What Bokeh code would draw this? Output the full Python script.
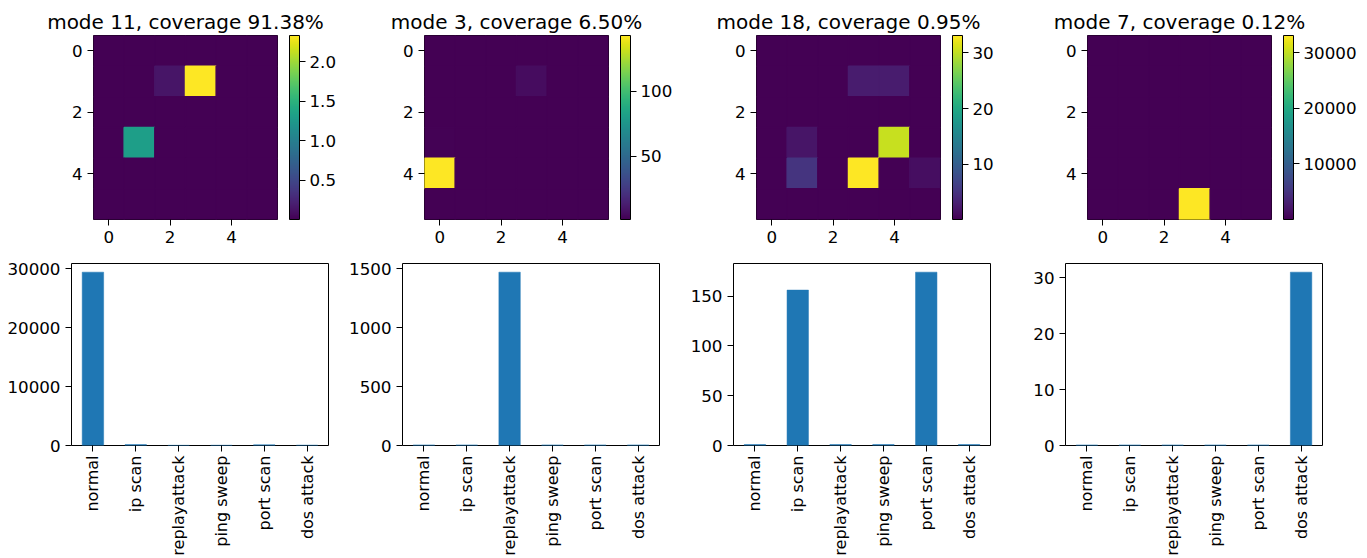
import numpy as np
from bokeh.plotting import figure
from bokeh.models import (ColumnDataSource, LinearColorMapper, ColorBar, FixedTicker, Range1d,
                          PrintfTickFormatter)
from bokeh.layouts import row, column
from bokeh.palettes import Viridis256
from bokeh.transform import transform
from bokeh.embed import file_html
from bokeh.resources import INLINE

FONT = "DejaVu Sans"
TICK_FS = "16.7px"
BAR_LABEL_FS = "16px"
TITLE_FS = "20px"

titles = ["mode 11, coverage 91.38%", "mode 3, coverage 6.50%",
          "mode 18, coverage 0.95%", "mode 7, coverage 0.12%"]

heat_mode11 = [
    [0.005, 0.005, 0.005, 0.005, 0.005, 0.005],
    [0.005, 0.005, 0.14, 2.335, 0.005, 0.005],
    [0.005, 0.005, 0.005, 0.005, 0.005, 0.005],
    [0.005, 1.31, 0.005, 0.005, 0.005, 0.005],
    [0.005, 0.005, 0.005, 0.005, 0.005, 0.005],
    [0.005, 0.005, 0.005, 0.005, 0.005, 0.005],
]
heat_mode3 = [
    [1.5, 1.5, 1.5, 1.5, 1.5, 1.5],
    [1.5, 1.5, 1.5, 6.0, 1.5, 1.5],
    [1.5, 1.5, 1.5, 1.5, 1.5, 1.5],
    [2.5, 1.5, 1.5, 1.5, 1.5, 1.5],
    [143.0, 1.5, 1.5, 1.5, 1.5, 1.5],
    [1.5, 1.5, 1.5, 1.5, 1.5, 1.5],
]
heat_mode18 = [
    [0.1, 0.1, 0.1, 0.1, 0.1, 0.1],
    [0.1, 0.1, 0.1, 2.6, 2.6, 0.1],
    [0.1, 0.1, 0.1, 0.1, 0.1, 0.1],
    [0.1, 2.0, 0.1, 0.1, 30.3, 0.1],
    [0.1, 5.0, 0.1, 33.1, 0.1, 1.3],
    [0.1, 0.1, 0.1, 0.1, 0.1, 0.1],
]
heat_mode7 = [
    [5, 5, 5, 5, 5, 5],
    [5, 5, 5, 5, 5, 5],
    [5, 5, 5, 5, 5, 5],
    [5, 5, 5, 5, 5, 5],
    [5, 5, 5, 5, 5, 5],
    [5, 5, 5, 33060, 5, 5],
]
heatmaps = [heat_mode11, heat_mode3, heat_mode18, heat_mode7]
cbar_ticks = [[0.5, 1.0, 1.5, 2.0], [50, 100], [10, 20, 30], [10000, 20000, 30000]]
cbar_formats = ["%.1f", "%d", "%d", "%d"]
heat_ticks = [0, 2, 4]

categories = ["normal", "ip scan", "replayattack", "ping sweep", "port scan", "dos attack"]
counts_mode11 = [29450, 150, 30, 40, 120, 60]
counts_mode3 = [5, 5, 1470, 5, 5, 5]
counts_mode18 = [1, 156, 1, 1, 174, 1]
counts_mode7 = [0.1, 0.1, 0.1, 0.1, 0.1, 31]
counts = [counts_mode11, counts_mode3, counts_mode18, counts_mode7]
bar_ticks = [[0, 10000, 20000, 30000], [0, 500, 1000, 1500], [0, 50, 100, 150], [0, 10, 20, 30]]

# layout (pixels)
FRAME = 184
heat_left = [93, 50, 50, 50]
heat_w = [374, 332, 331, 323]
TOP_H = 250
HEAT_TOP = 35

BAR_FW = 257
BAR_FH = 183
bar_left = [71, 60, 50, 45]
bar_w = [342, 341, 337, 332]
BOT_H = 308
BAR_TOP = 13


def style_axis(ax, fs=TICK_FS):
    ax.axis_line_color = None
    ax.major_tick_line_color = "black"
    ax.major_tick_line_width = 1
    ax.major_tick_out = 6
    ax.major_tick_in = 0
    ax.minor_tick_line_color = None
    ax.major_label_text_font = FONT
    ax.major_label_text_font_size = fs
    ax.major_label_text_color = "black"
    ax.major_label_standoff = 5


top_figs = []
bot_figs = []
for i in range(4):
    data = np.array(heatmaps[i], dtype=float)
    n = data.shape[0]
    xs, ys, vs = [], [], []
    for r in range(n):
        for c in range(n):
            xs.append(c)
            ys.append(r)
            vs.append(data[r, c])
    src = ColumnDataSource(dict(x=xs, y=ys, v=vs))
    mapper = LinearColorMapper(palette=Viridis256, low=float(data.min()), high=float(data.max()))
    p = figure(width=heat_w[i], height=TOP_H, output_backend="svg", toolbar_location=None,
               x_range=Range1d(-0.5, n - 0.5), y_range=Range1d(n - 0.5, -0.5),
               min_border_left=heat_left[i], min_border_right=heat_w[i] - heat_left[i] - FRAME,
               min_border_top=HEAT_TOP, min_border_bottom=TOP_H - HEAT_TOP - FRAME)
    p.rect(x="x", y="y", width=1, height=1, source=src,
           fill_color=transform("v", mapper), line_color=transform("v", mapper), line_width=1.5)
    p.grid.visible = False
    p.outline_line_color = "black"
    p.outline_line_width = 1
    p.outline_line_alpha = 1
    p.background_fill_color = "white"
    p.border_fill_color = "white"
    for ax in (p.xaxis[0], p.yaxis[0]):
        style_axis(ax)
        ax.ticker = FixedTicker(ticks=heat_ticks)
    p.title.text = titles[i]
    p.title.align = "center"
    p.title.text_font = FONT
    p.title.text_font_size = TITLE_FS
    p.title.text_font_style = "normal"
    p.title.text_color = "black"
    p.title.standoff = 4
    cb = ColorBar(color_mapper=mapper, ticker=FixedTicker(ticks=cbar_ticks[i]),
                  formatter=PrintfTickFormatter(format=cbar_formats[i]),
                  width=10, height=FRAME, margin=0, padding=0, location=(12, 0),
                  major_tick_out=6, major_tick_in=0, major_tick_line_color="black",
                  minor_tick_line_color=None,
                  bar_line_color="black", bar_line_width=1,
                  label_standoff=4, major_label_text_font=FONT,
                  major_label_text_font_size=TICK_FS, major_label_text_color="black",
                  background_fill_color=None, border_line_color=None)
    p.add_layout(cb, "right")
    top_figs.append(p)

    vals = counts[i]
    ymax = max(vals) * 1.05
    bsrc = ColumnDataSource(dict(x=list(range(len(categories))), top=vals))
    b = figure(width=bar_w[i], height=BOT_H, output_backend="svg", toolbar_location=None,
               x_range=Range1d(-0.5, len(categories) - 0.5), y_range=Range1d(0, ymax),
               min_border_left=bar_left[i], min_border_right=bar_w[i] - bar_left[i] - BAR_FW,
               min_border_top=BAR_TOP, min_border_bottom=BOT_H - BAR_TOP - BAR_FH)
    b.vbar(x="x", top="top", width=0.5, bottom=0, source=bsrc,
           fill_color="#1f77b4", line_color="#1f77b4", line_width=0.5)
    b.grid.visible = False
    b.outline_line_color = "black"
    b.outline_line_width = 1
    b.outline_line_alpha = 1
    b.background_fill_color = "white"
    b.border_fill_color = "white"
    style_axis(b.xaxis[0], BAR_LABEL_FS)
    b.xaxis[0].major_label_standoff = 4
    style_axis(b.yaxis[0])
    b.xaxis.ticker = FixedTicker(ticks=list(range(len(categories))))
    b.xaxis.major_label_overrides = {k: lab for k, lab in enumerate(categories)}
    b.xaxis.major_label_orientation = np.pi / 2
    b.yaxis.ticker = FixedTicker(ticks=bar_ticks[i])
    bot_figs.append(b)

layout = column(row(*top_figs), row(*bot_figs))
open("out.html", "w").write(file_html(layout, INLINE))
